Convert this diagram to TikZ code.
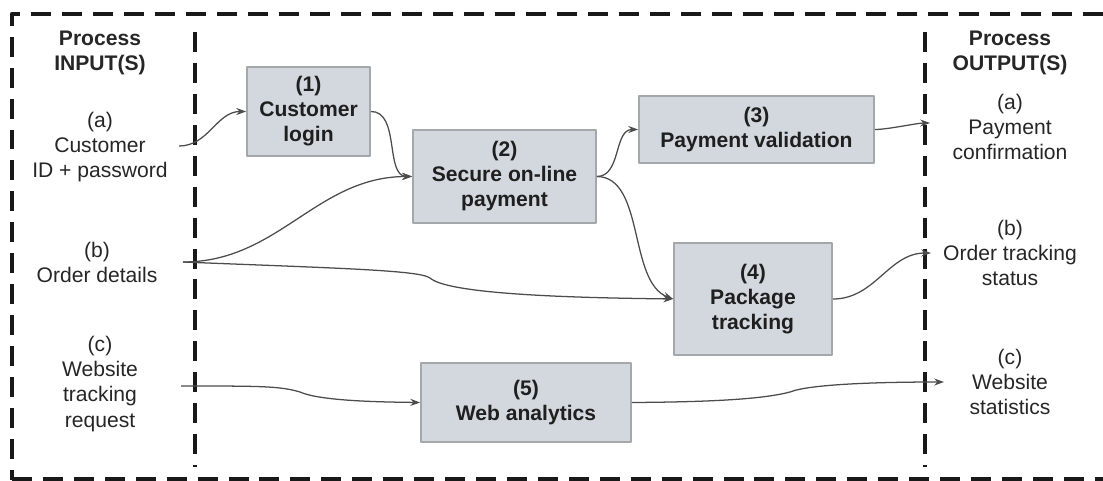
\documentclass[tikz,border=0pt]{standalone}
\usepackage{fontspec}
\setmainfont{Liberation Sans}
\usetikzlibrary{arrows.meta}
\begin{document}
\begin{tikzpicture}[x=0.025cm, y=-0.025cm, >={Stealth[length=7pt,width=5pt]},
	font=\fontsize{15}{17.8}\selectfont, line join=round]
	\definecolor{box fill}{RGB}{210,216,222}
	\definecolor{box edge}{RGB}{165,168,170}
	\colorlet{flow line}{black!70}
	\tikzset{procbox/.style={fill=box fill, draw=box edge, line width=1.2pt, align=center, text=black!88, font=\fontsize{15}{17.8}\selectfont\bfseries},
	lbl/.style={align=center, text=black!85},
	border/.style={line width=3pt, dash pattern=on 14.2pt off 7.8pt, black!90},
	flow/.style={->, draw=flow line, line width=0.9pt}}
	\useasboundingbox (0,0) rectangle (1103,480);
	% frame and column separators
	\draw[border] (1103,14) -- (12,14) -- (12,480);
	\draw[border] (12,479) -- (1103,479);
	\draw[border] (195,32) -- (195,467);
	\draw[border] (925,32) -- (925,467);
	% inputs and outputs
	\node[lbl, font=\fontsize{15}{17.8}\selectfont\bfseries] (inhead) at (100,53) {Process\\INPUT(S)};
	\node[lbl] (ina) at (100,147) {(a)\\Customer\\ID + password};
	\node[lbl] (inb) at (97,262) {(b)\\Order details};
	\node[lbl] (inc) at (100,384) {(c)\\Website\\tracking\\request};
	\node[lbl, font=\fontsize{15}{17.8}\selectfont\bfseries] (outhead) at (1010,53) {Process\\OUTPUT(S)};
	\node[lbl] (outa) at (1010,127) {(a)\\Payment\\confirmation};
	\node[lbl] (outb) at (1010,253) {(b)\\Order tracking\\status};
	\node[lbl] (outc) at (1010,382) {(c)\\Website\\statistics};
	% process steps
	\node[procbox, minimum width=3.075cm, minimum height=2.225cm] (login) at (308.5,111.5) {(1)\\Customer\\login};
	\node[procbox, minimum width=4.575cm, minimum height=2.325cm] (payment) at (504.5,176.5) {(2)\\Secure on-line\\payment};
	\node[procbox, minimum width=5.875cm, minimum height=1.675cm] (validation) at (756.5,129.5) {(3)\\Payment validation};
	\node[procbox, minimum width=3.95cm, minimum height=2.8cm] (tracking) at (753,299) {(4)\\Package\\tracking};
	\node[procbox, minimum width=5.25cm, minimum height=1.975cm] (analytics) at (526,402.5) {(5)\\Web analytics};
	% connector ends
	\coordinate (ina-o) at (179,146);
	\coordinate (inb-o) at (183,262);
	\coordinate (inc-o) at (181,386);
	\coordinate (outa-i) at (930,123);
	\coordinate (outb-i) at (931,253);
	\coordinate (outc-i) at (944,382);
	% flows
	\draw[flow] (ina-o) to[out=0, in=180] (login.west);
	\draw[flow] (login.east) .. controls (400,111) and (385,176) .. (payment.west);
	\draw[flow] (inb-o) to[out=0, in=180] (payment.west);
	\draw[flow] (inb-o) .. controls (330,268) and (420,270) .. (430,278) .. controls (450,296) and (600,298) .. (tracking.west);
	\draw[flow] (payment.east) to[out=0, in=180] (validation.west);
	\draw[flow] (payment.east) .. controls (645,177) and (628,282) .. (tracking.west);
	\draw[flow] (validation.east) to[out=0, in=180, looseness=0.6] (outa-i);
	\draw[flow] (tracking.east) to[out=0, in=180] (outb-i);
	\draw[flow] (inc-o) .. controls (260,386) and (280,386) .. (300,392) .. controls (320,401) and (380,402) .. (analytics.west);
	\draw[flow] (analytics.east) .. controls (700,402) and (760,400) .. (790,392) .. controls (810,384) and (880,382) .. (outc-i);
\end{tikzpicture}
\end{document}
